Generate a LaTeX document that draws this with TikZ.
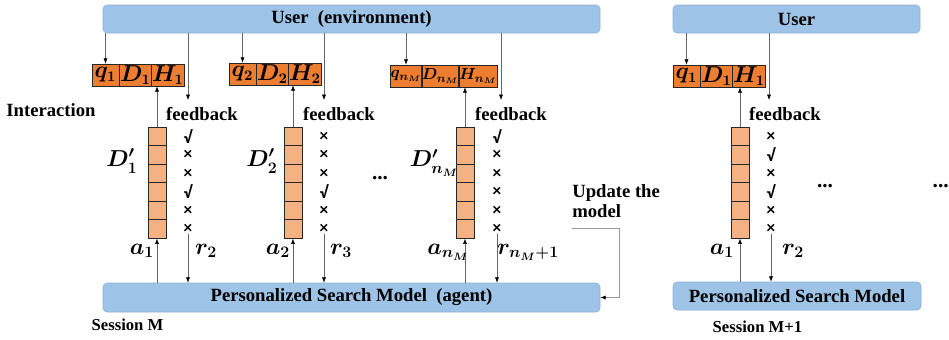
\documentclass[tikz,border=0pt]{standalone}
\usepackage{fontspec}
\usepackage{amsmath}
\usetikzlibrary{arrows.meta, positioning, calc}
\setmainfont{Liberation Serif}
\newfontfamily\markfont{Carlito}
\definecolor{barblue}{RGB}{157, 195, 230}
\definecolor{barline}{RGB}{140, 176, 216}
\definecolor{qorange}{RGB}{237, 125, 49}
\definecolor{cellorange}{RGB}{244, 177, 131}
\definecolor{wire}{RGB}{100, 100, 100}
\newcommand{\okmark}{√}
\newcommand{\nomark}{×}
\tikzset{
    font=\fontsize{14}{15}\selectfont\bfseries,
    bar/.style={rectangle, rounded corners=3pt, draw=barline, fill=barblue, minimum height=21pt, inner sep=0pt},
    qbox/.style={rectangle, draw=black!85, fill=qorange, minimum width=20.5pt, minimum height=16.5pt, inner sep=0.3pt, font=\fontsize{16}{16}\selectfont},
    widebox/.style={qbox, minimum width=22pt, inner xsep=0pt, font=\fontsize{13}{13}\selectfont},
    cell/.style={rectangle, draw=black!85, fill=cellorange, minimum width=13.5pt, minimum height=13.9pt, inner sep=0pt},
    fbmark/.style={font=\markfont\fontsize{13}{13}\selectfont\bfseries, inner sep=0pt},
    mathlbl/.style={font=\fontsize{17}{18}\selectfont},
    arrow/.style={-{Latex[length=4pt, width=3pt, color=black]}, draw=wire, thin},
    session_text/.style={font=\fontsize{12.5}{14}\selectfont\bfseries},
    dots_text/.style={font=\fontsize{16}{16}\selectfont\bfseries}
}

\begin{document}
\begin{tikzpicture}[x=0.75pt, y=-0.75pt]
    \useasboundingbox (0,0) rectangle (949,339);

    % Session M: environment and agent
    \node (ubar) [bar, minimum width=372.75pt] at (351.5,19) {User~ (environment)};
    \node (mbar) [bar, minimum width=372.75pt, minimum height=21.75pt] at (351.5,297.5) {Personalized Search Model~ (agent)};
    \node (inter) at (51,110) {Interaction};
    \node (sessM) [session_text] at (127.5,325) {Session M};

    % Step 1
    \node (q1) [qbox] at (105.5,75) {$\boldsymbol{q_1}$};
    \node (d1) [qbox, right=0pt of q1] {$\boldsymbol{D_1}$};
    \node (h1) [qbox, right=0pt of d1] {$\boldsymbol{H_1}$};
    \foreach \k in {1,...,6} \node (s1-\k) [cell] at (157,118+18.5*\k) {};
    \foreach \m [count=\k] in {\okmark,\nomark,\nomark,\okmark,\nomark,\nomark}
        \node (m1-\k) [fbmark] at (188,118+18.5*\k) {\m};
    \coordinate (fb1) at (188,100);
    \node (fbtext1) at (202,114) {feedback};
    \node (dp1) [mathlbl] at (122,161) {$\boldsymbol{D^{\prime}_1}$};
    \node (a1) [mathlbl] at (142,251) {$\boldsymbol{a_1}$};
    \node (r2) [mathlbl] at (206,251) {$\boldsymbol{r_2}$};
    \draw [arrow] (ubar.south -| q1.north) -- (q1.north);
    \draw [arrow] (ubar.south -| fb1) -- (fb1);
    \draw [arrow] (s1-1.north) -- (s1-1.north |- h1.south);
    \draw [arrow] (s1-6.south |- mbar.north) -- (s1-6.south);
    \draw [arrow] (m1-6.south) -- (m1-6.south |- mbar.north);

    % Step 2
    \node (q2) [qbox] at (242.5,74) {$\boldsymbol{q_2}$};
    \node (d2) [qbox, right=0pt of q2] {$\boldsymbol{D_2}$};
    \node (h2) [qbox, right=0pt of d2] {$\boldsymbol{H_2}$};
    \foreach \k in {1,...,6} \node (s2-\k) [cell] at (293,118+18.5*\k) {};
    \foreach \m [count=\k] in {\nomark,\nomark,\nomark,\okmark,\nomark,\nomark}
        \node (m2-\k) [fbmark] at (324,118+18.5*\k) {\m};
    \coordinate (fb2) at (324,100);
    \node (fbtext2) at (339,114) {feedback};
    \node (dp2) [mathlbl] at (262,161) {$\boldsymbol{D^{\prime}_2}$};
    \node (a2) [mathlbl] at (278,251) {$\boldsymbol{a_2}$};
    \node (r3) [mathlbl] at (341,251) {$\boldsymbol{r_3}$};
    \draw [arrow] (ubar.south -| q2.north) -- (q2.north);
    \draw [arrow] (ubar.south -| fb2) -- (fb2);
    \draw [arrow] (s2-1.north) -- (s2-1.north |- h2.south);
    \draw [arrow] (s2-6.south |- mbar.north) -- (s2-6.south);
    \draw [arrow] (m2-6.south) -- (m2-6.south |- mbar.north);

    \node (dots1) [dots_text] at (380,178) {...};

    % Step n_M
    \node (qn) [widebox] at (406,76) {$\boldsymbol{q_{n_M}}$};
    \node (dn) [widebox, right=0pt of qn] {$\boldsymbol{D_{n_M}}$};
    \node (hn) [widebox, right=0pt of dn] {$\boldsymbol{H_{n_M}}$};
    \foreach \k in {1,...,6} \node (sn-\k) [cell] at (465,118+18.5*\k) {};
    \foreach \m [count=\k] in {\okmark,\nomark,\nomark,\nomark,\nomark,\nomark}
        \node (mn-\k) [fbmark] at (497,118+18.5*\k) {\m};
    \coordinate (fbn) at (501,100);
    \node (fbtextn) at (511,114) {feedback};
    \node (dpn) [mathlbl] at (434,163) {$\boldsymbol{D^{\prime}_{n_M}}$};
    \node (an) [mathlbl] at (448,252) {$\boldsymbol{a_{n_M}}$};
    \node (rn) [mathlbl] at (528,252) {$\boldsymbol{r_{n_M+1}}$};
    \draw [arrow] (ubar.south -| qn.north) -- (qn.north);
    \draw [arrow] (ubar.south -| fbn) -- (fbn);
    \draw [arrow] (sn-1.north) -- (sn-1.north |- hn.south);
    \draw [arrow] (sn-6.south |- mbar.north) -- (sn-6.south);
    \draw [arrow] (mn-6.south) -- (mn-6.south |- mbar.north);

    % Model update
    \node (upd) [anchor=north west, align=left, inner sep=0pt] at (572,184) {Update the\\model};
    \coordinate (updstart) at (572,228);
    \coordinate (updcorner) at (619,228);
    \draw [arrow, draw=black!40] (updstart) -- (updcorner) |- (mbar.east);

    % Session M+1
    \node (ubar2) [bar, minimum width=185.25pt] at (796.5,19) {User};
    \node (mbar2) [bar, minimum width=186pt] at (797,296) {Personalized Search Model};
    \node (sessM1) [session_text] at (757.5,327) {Session M+1};
    \node (q4) [qbox] at (686.5,76) {$\boldsymbol{q_1}$};
    \node (d4) [qbox, right=0pt of q4] {$\boldsymbol{D_1}$};
    \node (h4) [qbox, right=0pt of d4] {$\boldsymbol{H_1}$};
    \foreach \k in {1,...,6} \node (s4-\k) [cell] at (740,118+18.5*\k) {};
    \foreach \m [count=\k] in {\nomark,\okmark,\nomark,\okmark,\nomark,\nomark}
        \node (m4-\k) [fbmark] at (771,118+18.5*\k) {\m};
    \coordinate (fb4) at (769,100);
    \node (fbtext4) at (785,114) {feedback};
    \node (a4) [mathlbl] at (722,251) {$\boldsymbol{a_1}$};
    \node (r4) [mathlbl] at (793,251) {$\boldsymbol{r_2}$};
    \draw [arrow] (ubar2.south -| q4.north) -- (q4.north);
    \draw [arrow] (ubar2.south -| fb4) -- (fb4);
    \draw [arrow] (s4-1.north) -- (s4-1.north |- h4.south);
    \draw [arrow] (s4-6.south |- mbar2.north) -- (s4-6.south);
    \draw [arrow] (m4-6.south) -- (m4-6.south |- mbar2.north);

    \node (dots2) [dots_text] at (825,186) {...};
    \node (dots3) [dots_text, anchor=east, inner sep=0pt] at (949,186) {...};

\end{tikzpicture}
\end{document}
